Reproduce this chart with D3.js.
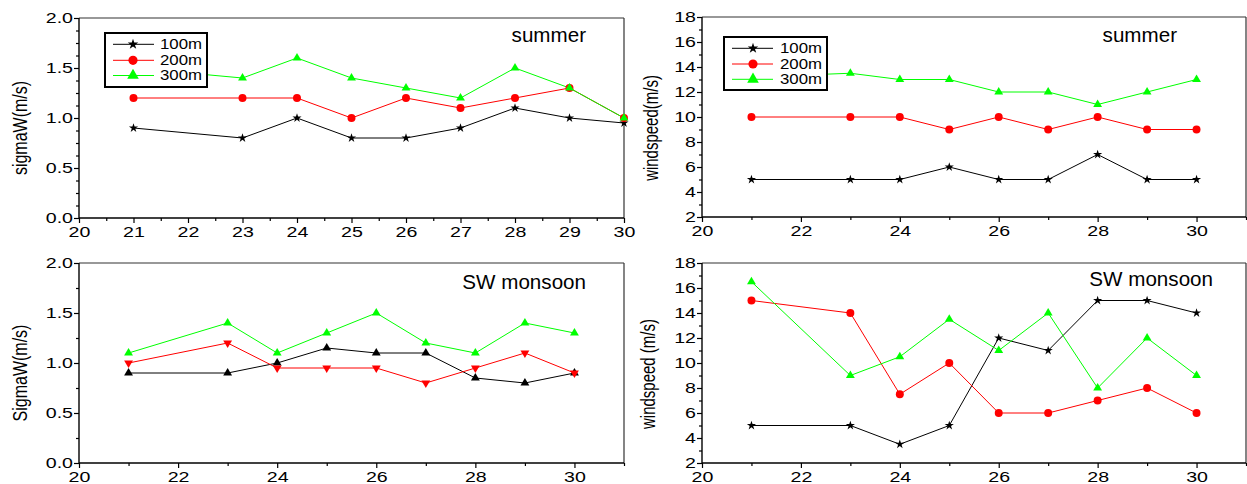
<!DOCTYPE html>
<html><head><meta charset="utf-8">
<script src="https://cdn.jsdelivr.net/npm/d3@7"></script>
<style>
body{margin:0;background:#fff}
svg{display:block}
text{font-family:"Liberation Sans",Arial,Helvetica,sans-serif;fill:#000}
</style>
</head><body>
<svg id="c" width="1247" height="484"></svg>
<script>
// ---------- data ----------
const days = [21, 23, 24, 25, 26, 27, 28, 29, 30];
const seriesNames = ["100m", "200m", "300m"];
const seriesColors = ["#000000", "#ff0000", "#00ff00"];

const sigmaSummer100 = [0.9, 0.8, 1.0, 0.8, 0.8, 0.9, 1.1, 1.0, 0.95];
const sigmaSummer200 = [1.2, 1.2, 1.2, 1.0, 1.2, 1.1, 1.2, 1.3, 1.0];
const sigmaSummer300 = [1.5, 1.4, 1.6, 1.4, 1.3, 1.2, 1.5, 1.3, 1.0];

const windSummer100 = [5, 5, 5, 6, 5, 5, 7, 5, 5];
const windSummer200 = [10, 10, 10, 9, 10, 9, 10, 9, 9];
const windSummer300 = [13.2, 13.5, 13, 13, 12, 12, 11, 12, 13];

const sigmaMonsoon100 = [0.9, 0.9, 1.0, 1.15, 1.1, 1.1, 0.85, 0.8, 0.9];
const sigmaMonsoon200 = [1.0, 1.2, 0.95, 0.95, 0.95, 0.8, 0.95, 1.1, 0.9];
const sigmaMonsoon300 = [1.1, 1.4, 1.1, 1.3, 1.5, 1.2, 1.1, 1.4, 1.3];

const windMonsoon100 = [5, 5, 3.5, 5, 12, 11, 15, 15, 14];
const windMonsoon200 = [15, 14, 7.5, 10, 6, 6, 7, 8, 6];
const windMonsoon300 = [16.5, 9, 10.5, 13.5, 11, 14, 8, 12, 9];

const sigmaTicks = [0, 0.5, 1.0, 1.5, 2.0];
const windTicks = [2, 4, 6, 8, 10, 12, 14, 16, 18];
const dayTicksAll = [20, 21, 22, 23, 24, 25, 26, 27, 28, 29, 30];
const dayTicksEven = [20, 22, 24, 26, 28, 30];

// ---------- helpers ----------
const svg = d3.select("#c");
const TXT_SX = 1.4;   // horizontal stretch of tick labels

const symStar = d3.symbolStar, symCircle = d3.symbolCircle, symTri = d3.symbolTriangle;

function markerPath(type, size) { return d3.symbol().type(type).size(size)(); }

const markerSizes = new Map([[symStar, 26], [symCircle, 50], [symTri, 34]]);
const legendSizes = new Map([[symStar, 34], [symCircle, 66], [symTri, 58]]);

function drawPanel(p) {
  const g = svg.append("g");
  const x = d3.scaleLinear().domain(p.xDom).range([p.x0, p.x1]);
  const y = d3.scaleLinear().domain(p.yDom).range([p.y1, p.y0]);

  // minor ticks
  const xm = g.append("g").attr("transform", `translate(0,${p.y1})`)
    .call(d3.axisBottom(x).tickValues(p.xMinor).tickSize(3).tickFormat(""));
  const ym = g.append("g").attr("transform", `translate(${p.x0},0)`)
    .call(d3.axisLeft(y).tickValues(p.yMinor).tickSize(3).tickFormat(""));
  // major ticks
  const xa = g.append("g").attr("transform", `translate(0,${p.y1})`)
    .call(d3.axisBottom(x).tickValues(p.xMajor).tickSize(5).tickPadding(4).tickFormat(d3.format("d")));
  const ya = g.append("g").attr("transform", `translate(${p.x0},0)`)
    .call(d3.axisLeft(y).tickValues(p.yMajor).tickSize(5).tickFormat(p.fmtY));

  [xm, ym, xa, ya].forEach(a => {
    a.select(".domain").remove();
    a.attr("font-family", null).attr("font-size", null);
    a.selectAll("line").attr("stroke", "#000").attr("stroke-width", 1.2);
  });
  xa.selectAll("text").attr("font-size", 14).attr("transform", `scale(${TXT_SX},1)`);
  ya.selectAll("text").attr("font-size", 14).attr("x", -6 / TXT_SX).attr("transform", `scale(${TXT_SX},1)`);

  // frame
  g.append("line").attr("x1", p.x0).attr("x2", p.x1).attr("y1", p.y0).attr("y2", p.y0)
    .attr("stroke", "#333").attr("stroke-width", 1.2);
  g.append("line").attr("x1", p.x1).attr("x2", p.x1).attr("y1", p.y0).attr("y2", p.y1)
    .attr("stroke", "#333").attr("stroke-width", 1.2);
  g.append("line").attr("x1", p.x0).attr("x2", p.x1).attr("y1", p.y1).attr("y2", p.y1)
    .attr("stroke", "#000").attr("stroke-width", 1.4);
  g.append("line").attr("x1", p.x0).attr("x2", p.x0).attr("y1", p.y0).attr("y2", p.y1)
    .attr("stroke", "#000").attr("stroke-width", 1.4);

  // series
  const line = d3.line().x((d, i) => x(days[i])).y(d => y(d));
  p.series.forEach((vals, si) => {
    g.append("path").attr("d", line(vals)).attr("fill", "none")
      .attr("stroke", seriesColors[si]).attr("stroke-width", 1);
  });
  p.series.forEach((vals, si) => {
    const m = p.markers[si];
    g.append("g").selectAll("path").data(vals).join("path")
      .attr("d", markerPath(m.type, markerSizes.get(m.type)))
      .attr("transform", (d, i) => `translate(${x(days[i])},${y(d)})` + (m.down ? " rotate(180)" : ""))
      .attr("fill", seriesColors[si]);
  });

  // legend
  if (p.legend) {
    const L = p.legend;
    g.append("rect").attr("x", L.x).attr("y", L.y).attr("width", L.w).attr("height", L.h)
      .attr("fill", "#fff").attr("stroke", "#000").attr("stroke-width", 2);
    seriesNames.forEach((name, si) => {
      const ry = L.rows[si];
      g.append("line").attr("x1", L.lx0).attr("x2", L.lx1).attr("y1", ry).attr("y2", ry)
        .attr("stroke", seriesColors[si]).attr("stroke-width", 1);
      const m = p.markers[si];
      g.append("path").attr("d", markerPath(m.type, legendSizes.get(m.type)))
        .attr("transform", `translate(${L.mx},${ry})` + (m.down ? " rotate(180)" : ""))
        .attr("fill", seriesColors[si]);
      g.append("g").attr("transform", `translate(${L.tx},${ry}) scale(1.2,1)`)
        .append("text").attr("dy", "0.35em").attr("font-size", 14).text(name);
    });
  }

  // title
  g.append("g").attr("transform", `translate(${p.titleX},${p.titleY}) scale(1.03,1)`)
    .append("text").attr("text-anchor", "end").attr("font-size", 20).text(p.title);

  // y label
  g.append("g").attr("transform", `translate(${p.ylabX},${p.ylabY}) scale(1.3,1) rotate(-90)`)
    .append("text").attr("text-anchor", "middle").attr("dy", "0.3em")
    .attr("font-size", p.ylabSize).text(p.ylabel);
}

const stdMarkers = [{ type: symStar }, { type: symCircle }, { type: symTri }];
const triMarkers = [{ type: symTri }, { type: symTri, down: true }, { type: symTri }];

const panels = [
  {
    x0: 79, x1: 624, y0: 18, y1: 218, xDom: [20, 30], yDom: [0, 2],
    xMajor: dayTicksAll, xMinor: d3.range(20.5, 30, 1),
    yMajor: sigmaTicks, yMinor: d3.range(0, 2.001, 0.125).filter(v => Math.abs(v * 2 - Math.round(v * 2)) > 1e-6),
    fmtY: d3.format(".1f"),
    series: [sigmaSummer100, sigmaSummer200, sigmaSummer300], markers: stdMarkers,
    legend: { x: 105, y: 33, w: 102, h: 54, rows: [44.3, 60.3, 75.5], lx0: 113, lx1: 154, mx: 133, tx: 160 },
    title: "summer", titleX: 586, titleY: 42,
    ylabel: "sigmaW(m/s)", ylabX: 21, ylabY: 128, ylabSize: 16
  },
  {
    x0: 702, x1: 1246, y0: 17, y1: 217, xDom: [20, 31], yDom: [2, 18],
    xMajor: dayTicksEven, xMinor: d3.range(21, 32, 2),
    yMajor: windTicks, yMinor: d3.range(3, 18, 2),
    fmtY: d3.format("d"),
    series: [windSummer100, windSummer200, windSummer300], markers: stdMarkers,
    legend: { x: 724, y: 37, w: 103, h: 53, rows: [48.3, 64, 79.3], lx0: 732, lx1: 773, mx: 753, tx: 780 },
    title: "summer", titleX: 1177, titleY: 42,
    ylabel: "windspeed(m/s)", ylabX: 652, ylabY: 128, ylabSize: 15
  },
  {
    x0: 79, x1: 624, y0: 263, y1: 463, xDom: [20, 31], yDom: [0, 2],
    xMajor: dayTicksEven, xMinor: d3.range(21, 32, 2),
    yMajor: sigmaTicks, yMinor: d3.range(0.25, 2, 0.5),
    fmtY: d3.format(".1f"),
    series: [sigmaMonsoon100, sigmaMonsoon200, sigmaMonsoon300], markers: triMarkers,
    legend: null,
    title: "SW monsoon", titleX: 586, titleY: 289,
    ylabel: "SigmaW(m/s)", ylabX: 21, ylabY: 373, ylabSize: 16
  },
  {
    x0: 702, x1: 1246, y0: 263, y1: 463, xDom: [20, 31], yDom: [2, 18],
    xMajor: dayTicksEven, xMinor: d3.range(21, 32, 2),
    yMajor: windTicks, yMinor: d3.range(3, 18, 2),
    fmtY: d3.format("d"),
    series: [windMonsoon100, windMonsoon200, windMonsoon300], markers: stdMarkers,
    legend: null,
    title: "SW monsoon", titleX: 1213, titleY: 286,
    ylabel: "windspeed (m/s)", ylabX: 649, ylabY: 374, ylabSize: 15
  }
];

panels.forEach(drawPanel);
</script>
</body></html>
